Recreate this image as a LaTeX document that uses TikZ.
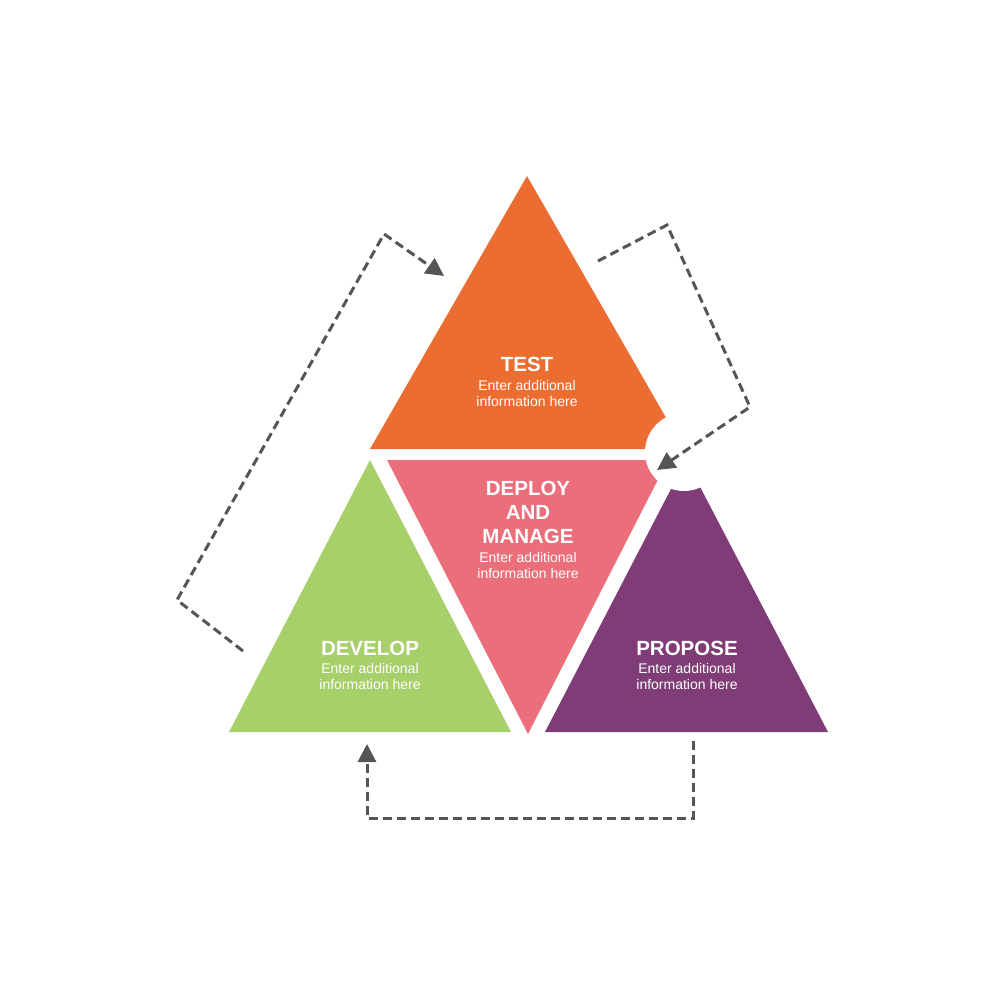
\documentclass[tikz,border=0pt]{standalone}
\usepackage{fontspec}
\setmainfont{Liberation Sans}
\usetikzlibrary{arrows.meta}
\definecolor{testorange}{HTML}{EC6D31}
\definecolor{deploypink}{HTML}{EA6F7A}
\definecolor{developgreen}{HTML}{A7CF6A}
\definecolor{proposepurple}{HTML}{803C77}
\definecolor{flowgray}{HTML}{555555}
\begin{document}
\begin{tikzpicture}
    [x=0.5pt,y=-0.5pt,
    title/.style={text=white,align=center,inner sep=0pt,font=\fontsize{10.25}{12}\selectfont\bfseries},
    info/.style={text=white,align=center,inner sep=0pt,font=\fontsize{7}{8}\selectfont},
    flow/.style={flowgray,line width=1.5pt,dash pattern=on 4.5pt off 2.5pt,-{Triangle[length=9pt,width=9pt]}}]
    \useasboundingbox (0,0) rectangle (1000,1000);
    %triangles
    \fill[testorange] (527,176)--(684,449)--(370,449)--cycle;
    \fill[deploypink] (387,460)--(668,460)--(528,734)--cycle;
    \fill[developgreen] (370,460)--(511,732)--(229,732)--cycle;
    \fill[proposepurple] (686,460)--(828,732)--(545,732)--cycle;
    % white notch
    \fill[white] (684,452) circle (39);
    %labels
    \node[title] (test) at (527,364) {TEST};
    \node[info] (testinfo) at (527,393) {Enter additional\\information here};
    \node[title] (deploy) at (528,512) {DEPLOY\\AND\\MANAGE};
    \node[info] (deployinfo) at (528,565) {Enter additional\\information here};
    \node[title] (develop) at (370,648) {DEVELOP};
    \node[info] (developinfo) at (370,676) {Enter additional\\information here};
    \node[title] (propose) at (687,648) {PROPOSE};
    \node[info] (proposeinfo) at (687,676) {Enter additional\\information here};
    %cycle arrows
    \coordinate (developout) at (243,651);
    \coordinate (testin) at (444,276);
    \coordinate (testout) at (598,261);
    \coordinate (deployin) at (657,470);
    \coordinate (proposeout) at (693,741);
    \coordinate (developin) at (367,744);
    \draw[flow] (developout)--(177,600)--(384,234)--(testin);
    \draw[flow] (testout)--(667,225)--(750,407)--(deployin);
    \draw[flow] (proposeout)--(693,818)--(367,818)--(developin);
\end{tikzpicture}
\end{document}
